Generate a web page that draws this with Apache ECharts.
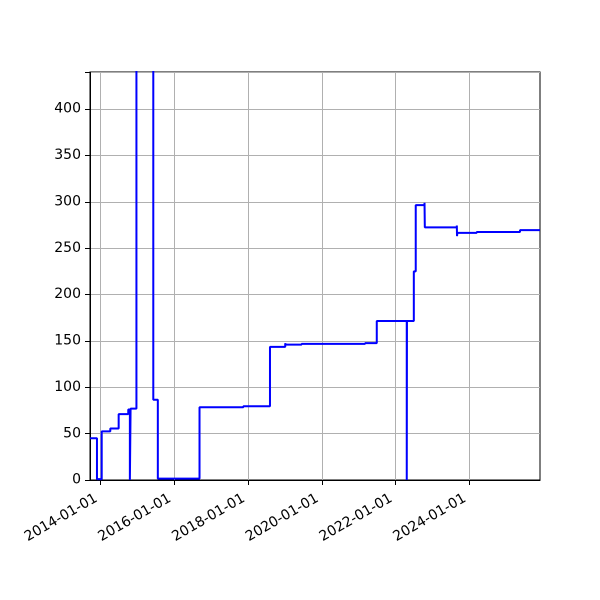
<!DOCTYPE html>
<html>
<head>
<meta charset="utf-8">
<script>
// 让 zrender 以高像素比计算线段忽略阈值，保留小台阶
try {
	Object.defineProperty(window, 'devicePixelRatio', { get: function() { return 8; }, configurable: true });
} catch (e) {}
</script>
<script src="https://cdn.jsdelivr.net/npm/echarts@6/dist/echarts.min.js"></script>
<style>
  html, body { margin: 0; padding: 0; background: #fff; }
  #chart { width: 600px; height: 600px; }
</style>
</head>
<body>
<div id="chart"></div>
<script>
/* 数据：阶梯变化的日期和对应数值 */
var stepDates = [
	'2013-09-17', '2013-11-25', '2014-01-11', '2014-04-06', '2014-06-28',
	'2014-10-01', '2014-10-17', '2014-10-24', '2014-12-21', '2015-06-06',
	'2015-07-21', '2016-09-06', '2017-11-14', '2018-08-05', '2019-01-03',
	'2019-01-06', '2019-06-14', '2021-03-04', '2021-06-28', '2022-04-21',
	'2022-04-23', '2022-06-30', '2022-07-19', '2022-10-14', '2022-10-17',
	'2023-08-30', '2023-09-01', '2023-09-04', '2024-03-14', '2025-05-17',
	'2025-12-01'
];
var stepValues = [
	45, 1, 52.5, 55.5, 71,
	76, 0, 77, 900, 86.5,
	1.5, 78.5, 79.5, 143.5, 147.5,
	146, 146.8, 147.6, 171.5, 0,
	171.5, 225, 296.5, 299, 272.5,
	274.5, 263, 266.5, 267.5, 269.5,
	269.5
];
var xTickLabels = ['2014-01-01', '2016-01-01', '2018-01-01', '2020-01-01', '2022-01-01', '2024-01-01'];
var yTicks = [0, 50, 100, 150, 200, 250, 300, 350, 400];

//日期字符串转时间戳（UTC）
function toTime(s) {
	var p = s.split('-');
	return Date.UTC(+p[0], +p[1] - 1, +p[2]);
}
function pad(n) {
	return n < 10 ? '0' + n : '' + n;
}
function fmtDate(t) {
	var d = new Date(t);
	return d.getUTCFullYear() + '-' + pad(d.getUTCMonth() + 1) + '-' + pad(d.getUTCDate());
}

var seriesData = [];
for (var i = 0; i < stepDates.length; i++) {
	seriesData.push([toTime(stepDates[i]), stepValues[i]]);
}
var xTickValues = xTickLabels.map(toTime);

var myChart = echarts.init(document.getElementById('chart'), null, { devicePixelRatio: 2 });

var option = {
	animation: false,
	backgroundColor: '#fff',
	textStyle: { fontFamily: 'DejaVu Sans' },
	grid: {
		left: 90,
		top: 72,
		width: 450,
		height: 408,
		show: true,
		borderColor: '#000',
		borderWidth: 1,
		containLabel: false
	},
	xAxis: {
		type: 'value',
		min: toTime(stepDates[0]),
		max: toTime(stepDates[stepDates.length - 1]),
		axisLine: { show: true, lineStyle: { color: '#000', width: 1 } },
		axisTick: {
			show: true,
			length: 5,
			customValues: xTickValues,
			lineStyle: { color: '#000', width: 1 }
		},
		axisLabel: {
			customValues: xTickValues,
			rotate: 30,
			margin: 15,
			padding: [0, 5, 0, 0],
			fontSize: 14,
			color: '#000',
			fontFamily: 'DejaVu Sans',
			formatter: function(val) {
				return fmtDate(val);
			}
		},
		splitLine: { show: true, lineStyle: { color: '#b0b0b0', width: 1 } }
	},
	yAxis: {
		type: 'value',
		min: 0,
		max: 440,
		interval: 50,
		axisLine: { show: true, lineStyle: { color: '#000', width: 1 } },
		axisTick: { show: true, length: 5, lineStyle: { color: '#000', width: 1 } },
		axisLabel: {
			margin: 9,
			fontSize: 14,
			color: '#000',
			fontFamily: 'DejaVu Sans',
			formatter: function(v) {
				return yTicks.indexOf(v) >= 0 ? String(v) : '';
			}
		},
		splitLine: { show: true, lineStyle: { color: '#b0b0b0', width: 1 } }
	},
	series: [{
		type: 'line',
		step: 'end',
		data: seriesData,
		showSymbol: false,
		symbol: 'none',
		clip: true,
		lineStyle: { color: '#0000ff', width: 2 },
		itemStyle: { color: '#0000ff' }
	}]
};

myChart.setOption(option);
</script>
</body>
</html>
